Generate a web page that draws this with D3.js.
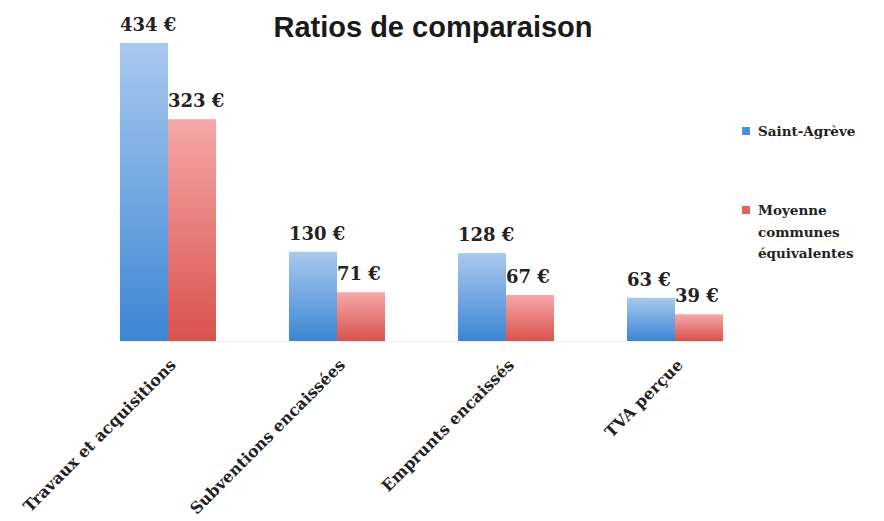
<!DOCTYPE html>
<html lang="fr">
<head>
  <meta charset="UTF-8" />
  <title>Ratios de comparaison</title>
  <script src="https://d3js.org/d3.v7.min.js"></script>
  <style>
    body { margin: 0; background: #fff; }
    .serif { font-family: "DejaVu Serif", "Liberation Serif", serif; font-weight: bold; fill: #222; }
  </style>
</head>
<body>
  <div id="chart"></div>
  <script>
    const categories = ["Travaux et acquisitions", "Subventions encaissées", "Emprunts encaissés", "TVA perçue"];
    const seriesNames = ["Saint-Agrève", "Moyenne communes équivalentes"];
    const saintAgreve = [434, 130, 128, 63];
    const moyenne = [323, 71, 67, 39];

    const width = 884, height = 521;
    const svg = d3.select("#chart").append("svg")
      .attr("width", width)
      .attr("height", height);

    const defs = svg.append("defs");
    function grad(id, top, bottom) {
      const g = defs.append("linearGradient").attr("id", id)
        .attr("x1", 0).attr("y1", 0).attr("x2", 0).attr("y2", 1);
      g.append("stop").attr("offset", "0%").attr("stop-color", top);
      g.append("stop").attr("offset", "100%").attr("stop-color", bottom);
    }
    grad("gBlue", "#a9c9ef", "#3b86d3");
    grad("gRed", "#f6a8a8", "#d9524d");

    // step 169px, bars 48px wide, first bar at x=120
    const x0 = d3.scaleBand().domain(categories).range([52.4, 790.6]).paddingInner(0.432).paddingOuter(0.4);
    const x1 = d3.scaleBand().domain(seriesNames).range([0, x0.bandwidth()]);
    const y = d3.scaleLinear().domain([0, 434]).range([341, 43]);

    // baseline shadow
    svg.append("line")
      .attr("x1", x0(categories[0])).attr("x2", x0(categories[3]) + x0.bandwidth())
      .attr("y1", y(0) + 0.5).attr("y2", y(0) + 0.5)
      .attr("stroke", "#eeeeee");

    const rows = categories.map((c, i) => ({ c, vals: [saintAgreve[i], moyenne[i]] }));

    const groups = svg.append("g").selectAll("g")
      .data(rows)
      .join("g")
      .attr("transform", d => `translate(${x0(d.c)},0)`);

    groups.selectAll("rect")
      .data(d => d.vals.map((v, j) => ({ s: seriesNames[j], v })))
      .join("rect")
      .attr("x", d => x1(d.s))
      .attr("y", d => y(d.v))
      .attr("width", x1.bandwidth())
      .attr("height", d => y(0) - y(d.v))
      .attr("fill", (d, j) => j === 0 ? "url(#gBlue)" : "url(#gRed)");

    groups.selectAll("text.val")
      .data(d => d.vals.map((v, j) => ({ s: seriesNames[j], v })))
      .join("text")
      .attr("class", "val serif")
      .attr("x", d => x1(d.s))
      .attr("y", d => y(d.v) - 12)
      .style("font-size", "18px")
      .text(d => `${d.v} €`);

    // category labels
    svg.append("g").selectAll("text")
      .data(categories)
      .join("text")
      .attr("class", "serif")
      .attr("text-anchor", "end")
      .style("font-size", "16px")
      .attr("transform", d => `translate(${x0(d) + x0.bandwidth() / 2 + 9},${366}) rotate(-45)`)
      .text(d => d);

    // title
    svg.append("text")
      .attr("x", 433)
      .attr("y", 37)
      .attr("text-anchor", "middle")
      .style("font-family", "'Liberation Sans', Arial, sans-serif")
      .style("font-weight", "bold")
      .style("font-size", "29px")
      .style("fill", "#1a1a1a")
      .text("Ratios de comparaison");

    // legend
    const legend = svg.append("g").attr("transform", "translate(742,0)");
    const legendItems = [
      { lines: ["Saint-Agrève"], y: 136, fill: "#4a8fd8" },
      { lines: ["Moyenne", "communes", "équivalentes"], y: 215, fill: "#e06461" }
    ];
    legendItems.forEach(item => {
      legend.append("rect")
        .attr("x", 0).attr("y", item.y - 9)
        .attr("width", 8).attr("height", 8)
        .attr("fill", item.fill);
      const t = legend.append("text")
        .attr("class", "serif")
        .style("font-size", "13.5px")
        .attr("y", item.y);
      item.lines.forEach((l, i) => {
        t.append("tspan").attr("x", 16).attr("dy", i === 0 ? 0 : 21.5).text(l);
      });
    });
  </script>
</body>
</html>
